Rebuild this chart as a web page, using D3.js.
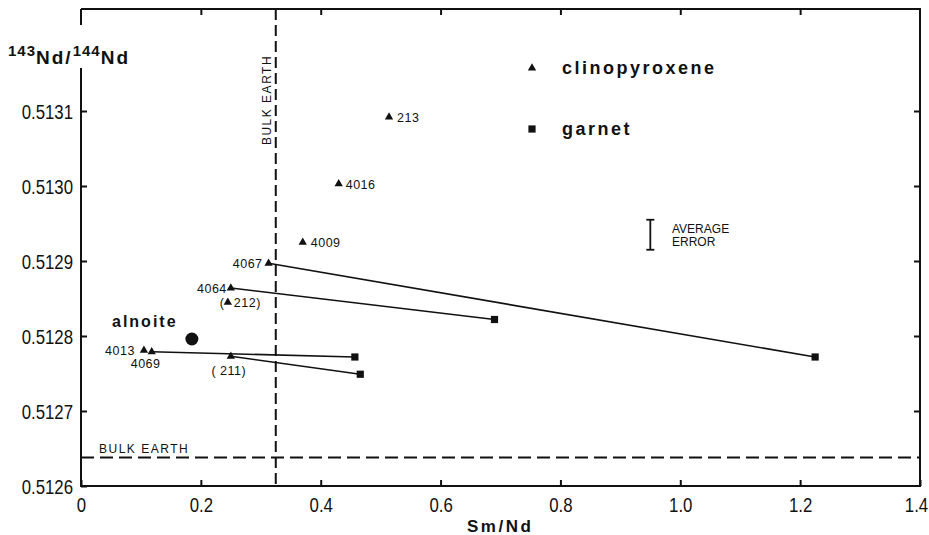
<!DOCTYPE html>
<html>
<head>
<meta charset="utf-8">
<script src="https://cdn.jsdelivr.net/npm/d3@7"></script>
<style>
  body { margin: 0; background: #fff; }
  svg { display: block; }
  .tick-lbl { font-family: "Liberation Sans", Arial, sans-serif; font-size: 21px; fill: #111; }
  .pt-lbl { font-family: "Liberation Sans", Arial, sans-serif; font-size: 12.5px; fill: #111; }
  .bold { font-family: "Liberation Sans", Arial, sans-serif; font-weight: bold; fill: #111; }
  .small-caps { font-family: "Liberation Sans", Arial, sans-serif; font-size: 12px; fill: #111; }
</style>
</head>
<body>
<svg id="chart" width="929" height="535"></svg>
<script>
// Sm/Nd vs 143Nd/144Nd
var xTicks = [0, 0.2, 0.4, 0.6, 0.8, 1.0, 1.2, 1.4],
    xTickLabels = ['0', '0.2', '0.4', '0.6', '0.8', '1.0', '1.2', '1.4'],
    yTicks = [0.5126, 0.5127, 0.5128, 0.5129, 0.5130, 0.5131],
    yTickLabels = ['0.5126', '0.5127', '0.5128', '0.5129', '0.5130', '0.5131'];

/** clinopyroxene samples **/
var cpxNames = ['213', '4016', '4009', '4067', '4064', '212', '4013', '4069', '211'],
    cpxSmNd  = [0.514, 0.430, 0.370, 0.313, 0.250, 0.245, 0.105, 0.118, 0.250],
    cpxNd    = [0.513092, 0.513003, 0.512925, 0.512897, 0.512864, 0.512845, 0.512781, 0.512779, 0.512773];

/** garnet samples, paired with a clinopyroxene **/
var grtPair = ['4067', '4064', '4069', '211'],
    grtSmNd = [1.225, 0.690, 0.457, 0.466],
    grtNd   = [0.512772, 0.512822, 0.512772, 0.512749];

var alnoite = { smnd: 0.185, nd: 0.512796 },
    bulkEarthSmNd = 0.325,
    bulkEarthNd = 0.512638,
    avgError = { smnd: 0.95, nd: 0.512935, half: 0.00002 };

var svg = d3.select('#chart'),
    padL = 81, padR = 920, padT = 9, padB = 486;

var x = d3.scaleLinear().domain([0, 1.4]).range([padL, padR]),
    y = d3.scaleLinear().domain([0.5126, 0.5126 + (padB - padT) / 750000]).range([padB, padT]);

// frame
var frame = svg.append('g').attr('stroke', '#111').attr('stroke-width', 2).attr('fill', 'none');
frame.append('line').attr('x1', padL).attr('x2', padR + 1).attr('y1', padT).attr('y2', padT);
frame.append('line').attr('x1', padR).attr('x2', padR).attr('y1', padT).attr('y2', padB);
frame.append('line').attr('x1', padL - 1).attr('x2', padR + 1).attr('y1', padB).attr('y2', padB);
frame.append('line').attr('x1', padL).attr('x2', padL).attr('y1', padT).attr('y2', 25);
frame.append('line').attr('x1', padL).attr('x2', padL).attr('y1', 68).attr('y2', padB);

// axes, ticks pointing inward
var xAxis = d3.axisBottom(x).tickValues(xTicks).tickSizeInner(-6).tickSizeOuter(0)
      .tickFormat(function(d, i) { return xTickLabels[i]; }),
    xAxisTop = d3.axisTop(x).tickValues(xTicks.slice(1, -1)).tickSizeInner(-6).tickSizeOuter(0).tickFormat(''),
    yAxis = d3.axisLeft(y).tickValues(yTicks).tickSizeInner(-6).tickSizeOuter(0)
      .tickPadding(10).tickFormat(function(d, i) { return yTickLabels[i]; }),
    yAxisRight = d3.axisRight(y).tickValues(yTicks.slice(1)).tickSizeInner(-6).tickSizeOuter(0).tickFormat('');

// the printed digits are narrow, so squeeze the labels sideways
function styleAxis(g) {
  g.attr('font-size', null).attr('font-family', null);
  g.select('.domain').remove();
  g.selectAll('.tick line').attr('stroke', '#111').attr('stroke-width', 2);
  g.selectAll('.tick text').attr('class', 'tick-lbl').attr('transform', 'scale(0.8,1)');
}

svg.append('g').attr('transform', 'translate(0,' + padB + ')').call(xAxis).call(styleAxis)
  .selectAll('.tick text').attr('y', 26).attr('dy', 0)
  .attr('x', function(d, i) { return i === xTicks.length - 1 ? -5 : 0; });
svg.append('g').attr('transform', 'translate(0,' + padT + ')').call(xAxisTop).call(styleAxis);
svg.append('g').attr('transform', 'translate(' + padL + ',0)').call(yAxis).call(styleAxis)
  .selectAll('.tick text').attr('dy', '0.36em');
svg.append('g').attr('transform', 'translate(' + padR + ',0)').call(yAxisRight).call(styleAxis);

// axis titles
var yTitle = svg.append('text').attr('class', 'bold').attr('x', 8).attr('y', 64).attr('font-size', 19);
yTitle.append('tspan').attr('font-size', 15).attr('dy', -8).attr('letter-spacing', 1).text('143');
yTitle.append('tspan').attr('dy', 8).attr('letter-spacing', 2).text('Nd/');
yTitle.append('tspan').attr('font-size', 15).attr('dy', -8).attr('letter-spacing', 1).text('144');
yTitle.append('tspan').attr('dy', 8).attr('letter-spacing', 2).text('Nd');

svg.append('text').attr('class', 'bold').attr('x', 467).attr('y', 532)
  .attr('font-size', 17).attr('letter-spacing', 2.5).text('Sm/Nd');

// bulk earth reference lines
svg.append('line')
  .attr('x1', x(bulkEarthSmNd)).attr('x2', x(bulkEarthSmNd)).attr('y1', padT).attr('y2', padB)
  .attr('stroke', '#111').attr('stroke-width', 2).attr('stroke-dasharray', '11,5');
svg.append('line')
  .attr('x1', padL).attr('x2', padR).attr('y1', y(bulkEarthNd)).attr('y2', y(bulkEarthNd))
  .attr('stroke', '#111').attr('stroke-width', 2).attr('stroke-dasharray', '13,6');

svg.append('text').attr('class', 'small-caps')
  .attr('transform', 'translate(' + (x(bulkEarthSmNd) - 5) + ',100) rotate(-90)')
  .attr('text-anchor', 'middle').attr('font-size', 13).attr('letter-spacing', 1.5).text('BULK EARTH');
svg.append('text').attr('class', 'small-caps')
  .attr('x', 99).attr('y', y(bulkEarthNd) - 5).attr('font-size', 13).attr('letter-spacing', 1.5).text('BULK  EARTH');

// tie lines cpx -> garnet
svg.append('g').selectAll('line')
  .data(grtPair)
  .enter()
    .append('line')
    .attr('x1', function(d) { return x(cpxSmNd[cpxNames.indexOf(d)]); })
    .attr('y1', function(d) { return y(cpxNd[cpxNames.indexOf(d)]); })
    .attr('x2', function(d, i) { return x(grtSmNd[i]); })
    .attr('y2', function(d, i) { return y(grtNd[i]); })
    .attr('stroke', '#111').attr('stroke-width', 1.6);

var triangle = d3.symbol().type(d3.symbolTriangle).size(30),
    square = d3.symbol().type(d3.symbolSquare).size(52);

svg.append('g').selectAll('path')
  .data(cpxNames)
  .enter()
    .append('path')
    .attr('d', triangle)
    .attr('transform', function(d, i) { return 'translate(' + x(cpxSmNd[i]) + ',' + y(cpxNd[i]) + ')'; })
    .attr('fill', '#111');

svg.append('g').selectAll('path')
  .data(grtPair)
  .enter()
    .append('path')
    .attr('d', square)
    .attr('transform', function(d, i) { return 'translate(' + x(grtSmNd[i]) + ',' + y(grtNd[i]) + ')'; })
    .attr('fill', '#111');

// sample labels: offsets from the point
var labelPos = {
  '213':  { dx: 8,  dy: 5,  anchor: 'start', text: '213' },
  '4016': { dx: 7,  dy: 5,  anchor: 'start', text: '4016' },
  '4009': { dx: 8,  dy: 5,  anchor: 'start', text: '4009' },
  '4067': { dx: -6, dy: 5,  anchor: 'end',   text: '4067' },
  '4064': { dx: -4, dy: 5,  anchor: 'end',   text: '4064' },
  '212':  { dx: 6,  dy: 5,  anchor: 'start', text: '212)' },
  '4013': { dx: -9, dy: 5,  anchor: 'end',   text: '4013' },
  '4069': { dx: -21, dy: 16, anchor: 'start', text: '4069' },
  '211':  { dx: -2, dy: 19, anchor: 'middle', text: '( 211)' }
};

svg.append('g').selectAll('text')
  .data(cpxNames)
  .enter()
    .append('text')
    .attr('class', 'pt-lbl')
    .attr('x', function(d, i) { return x(cpxSmNd[i]) + labelPos[d].dx; })
    .attr('y', function(d, i) { return y(cpxNd[i]) + labelPos[d].dy; })
    .attr('text-anchor', function(d) { return labelPos[d].anchor; })
    .attr('letter-spacing', 0.5)
    .text(function(d) { return labelPos[d].text; });

// opening bracket of (212)
var i212 = cpxNames.indexOf('212');
svg.append('text').attr('class', 'pt-lbl')
  .attr('x', x(cpxSmNd[i212]) - 4).attr('y', y(cpxNd[i212]) + 5)
  .attr('text-anchor', 'end').text('(');

// alnoite
svg.append('circle').attr('cx', x(alnoite.smnd)).attr('cy', y(alnoite.nd)).attr('r', 6.5).attr('fill', '#111');
svg.append('text').attr('class', 'bold').attr('x', 112).attr('y', 327)
  .attr('font-size', 16).attr('letter-spacing', 2).text('alnoite');

// legend
svg.append('path').attr('d', triangle).attr('transform', 'translate(532,68)').attr('fill', '#111');
svg.append('text').attr('class', 'bold').attr('x', 562).attr('y', 74)
  .attr('font-size', 18).attr('letter-spacing', 2.5).text('clinopyroxene');
svg.append('path').attr('d', square).attr('transform', 'translate(532,129)').attr('fill', '#111');
svg.append('text').attr('class', 'bold').attr('x', 562).attr('y', 135)
  .attr('font-size', 18).attr('letter-spacing', 2.5).text('garnet');

// average error bar
var eb = svg.append('g').attr('stroke', '#111').attr('stroke-width', 1.8);
eb.append('line').attr('x1', x(avgError.smnd)).attr('x2', x(avgError.smnd))
  .attr('y1', y(avgError.nd + avgError.half)).attr('y2', y(avgError.nd - avgError.half));
[avgError.nd + avgError.half, avgError.nd - avgError.half].forEach(function(v) {
  eb.append('line').attr('x1', x(avgError.smnd) - 4).attr('x2', x(avgError.smnd) + 4)
    .attr('y1', y(v)).attr('y2', y(v));
});
svg.append('text').attr('class', 'small-caps').attr('x', 672).attr('y', 233).text('AVERAGE');
svg.append('text').attr('class', 'small-caps').attr('x', 672).attr('y', 246).text('ERROR');
</script>
</body>
</html>
